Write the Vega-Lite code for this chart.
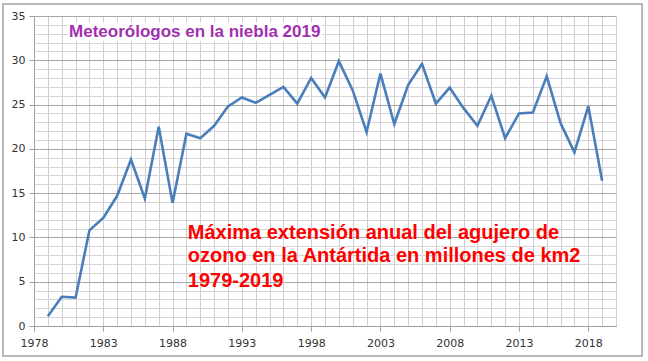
{
  "$schema": "https://vega.github.io/schema/vega-lite/v6.json",
  "width": 582,
  "height": 310,
  "autosize": {"type": "none"},
  "padding": {"left": 34, "top": 16, "right": 32, "bottom": 35},
  "background": "white",
  "config": {
    "view": {"stroke": null},
    "font": "Liberation Sans"
  },
  "datasets": {
    "ozone": [
      {"year": 1979, "area": 1.1},
      {"year": 1980, "area": 3.3},
      {"year": 1981, "area": 3.2},
      {"year": 1982, "area": 10.8},
      {"year": 1983, "area": 12.2},
      {"year": 1984, "area": 14.7},
      {"year": 1985, "area": 18.8},
      {"year": 1986, "area": 14.4},
      {"year": 1987, "area": 22.5},
      {"year": 1988, "area": 13.9},
      {"year": 1989, "area": 21.7},
      {"year": 1990, "area": 21.2},
      {"year": 1991, "area": 22.6},
      {"year": 1992, "area": 24.8},
      {"year": 1993, "area": 25.8},
      {"year": 1994, "area": 25.2},
      {"year": 1995, "area": 26.1},
      {"year": 1996, "area": 27.0},
      {"year": 1997, "area": 25.1},
      {"year": 1998, "area": 28.0},
      {"year": 1999, "area": 25.8},
      {"year": 2000, "area": 29.9},
      {"year": 2001, "area": 26.6},
      {"year": 2002, "area": 21.9},
      {"year": 2003, "area": 28.5},
      {"year": 2004, "area": 22.8},
      {"year": 2005, "area": 27.2},
      {"year": 2006, "area": 29.6},
      {"year": 2007, "area": 25.1},
      {"year": 2008, "area": 26.9},
      {"year": 2009, "area": 24.6},
      {"year": 2010, "area": 22.6},
      {"year": 2011, "area": 26.0},
      {"year": 2012, "area": 21.2},
      {"year": 2013, "area": 24.0},
      {"year": 2014, "area": 24.1},
      {"year": 2015, "area": 28.2},
      {"year": 2016, "area": 22.9},
      {"year": 2017, "area": 19.6},
      {"year": 2018, "area": 24.8},
      {"year": 2019, "area": 16.4}
    ],
    "notes": [
      {"label": "Máxima extensión anual del agujero de", "year": 1989.1, "area": 9.8},
      {"label": "ozono en la Antártida en millones de km2", "year": 1989.1, "area": 7.2},
      {"label": "1979-2019", "year": 1989.1, "area": 4.4}
    ],
    "title": [
      {"label": "Meteorólogos en la niebla 2019", "year": 1989.6, "area": 32.65}
    ],
    "frame": [
      {"year": 1975.76, "yearEnd": 2021.88, "area": 36.36, "areaEnd": -3.39}
    ],
    "titleBox": [
      {"year": 1980.4, "yearEnd": 1998.8, "area": 34.3, "areaEnd": 32.2}
    ]
  },
  "encoding": {
    "x": {
      "field": "year", "type": "quantitative",
      "scale": {"domain": [1978, 2020], "nice": false, "zero": false},
      "axis": {
        "title": null,
        "values": [1978,1979,1980,1981,1982,1983,1984,1985,1986,1987,1988,1989,1990,1991,1992,1993,1994,1995,1996,1997,1998,1999,2000,2001,2002,2003,2004,2005,2006,2007,2008,2009,2010,2011,2012,2013,2014,2015,2016,2017,2018,2019,2020],
        "format": "d",
        "labelExpr": "(datum.value - 1978) % 5 === 0 ? datum.label : ''",
        "grid": true,
        "gridColor": "#cfcfcf",
        "gridWidth": 1,
        "domainColor": "#a0a0a0",
        "tickColor": "#a0a0a0",
        "tickSize": {"condition": {"test": "(datum.value - 1978) % 5 === 0", "value": 5}, "value": 0},
        "labelFontSize": 11,
        "labelColor": "#333333",
        "labelPadding": 6,
        "labelFont": "DejaVu Sans",
        "labelOverlap": false,
        "labelFlush": false
      }
    },
    "y": {
      "field": "area", "type": "quantitative",
      "scale": {"domain": [0, 35], "nice": false},
      "axis": {
        "title": null,
        "values": [0,1,2,3,4,5,6,7,8,9,10,11,12,13,14,15,16,17,18,19,20,21,22,23,24,25,26,27,28,29,30,31,32,33,34,35],
        "labelExpr": "datum.value % 5 === 0 ? datum.label : ''",
        "grid": true,
        "gridColor": {"condition": {"test": "datum.value % 5 === 0", "value": "#a8a8a8"}, "value": "#d6d6d6"},
        "domainColor": "#a0a0a0",
        "tickColor": "#a0a0a0",
        "tickSize": {"condition": {"test": "datum.value % 5 === 0", "value": 5}, "value": 0},
        "labelFontSize": 11,
        "labelColor": "#333333",
        "labelPadding": 4,
        "labelFont": "DejaVu Sans",
        "labelOverlap": false,
        "labelFlush": false
      }
    }
  },
  "layer": [
    {
      "data": {"name": "frame"},
      "mark": {"type": "rect", "fillOpacity": 0, "stroke": "#a0a0a0", "strokeWidth": 1.5, "clip": false},
      "encoding": {
        "x2": {"field": "yearEnd"},
        "y2": {"field": "areaEnd"}
      }
    },
    {
      "data": {"name": "titleBox"},
      "mark": {"type": "rect", "fill": "white"},
      "encoding": {
        "x2": {"field": "yearEnd"},
        "y2": {"field": "areaEnd"}
      }
    },
    {
      "data": {"name": "ozone"},
      "mark": {"type": "line", "color": "#4a7ebb", "strokeWidth": 2.6}
    },
    {
      "data": {"name": "title"},
      "mark": {"type": "text", "fontSize": 17, "fontWeight": "bold", "font": "Liberation Sans", "color": "#a030b0", "align": "center", "baseline": "alphabetic"},
      "encoding": {
        "text": {"field": "label"}
      }
    },
    {
      "data": {"name": "notes"},
      "mark": {"type": "text", "fontSize": 20, "fontWeight": "bold", "font": "Liberation Sans", "color": "#ff0000", "align": "left", "baseline": "alphabetic"},
      "encoding": {
        "text": {"field": "label"}
      }
    }
  ]
}
